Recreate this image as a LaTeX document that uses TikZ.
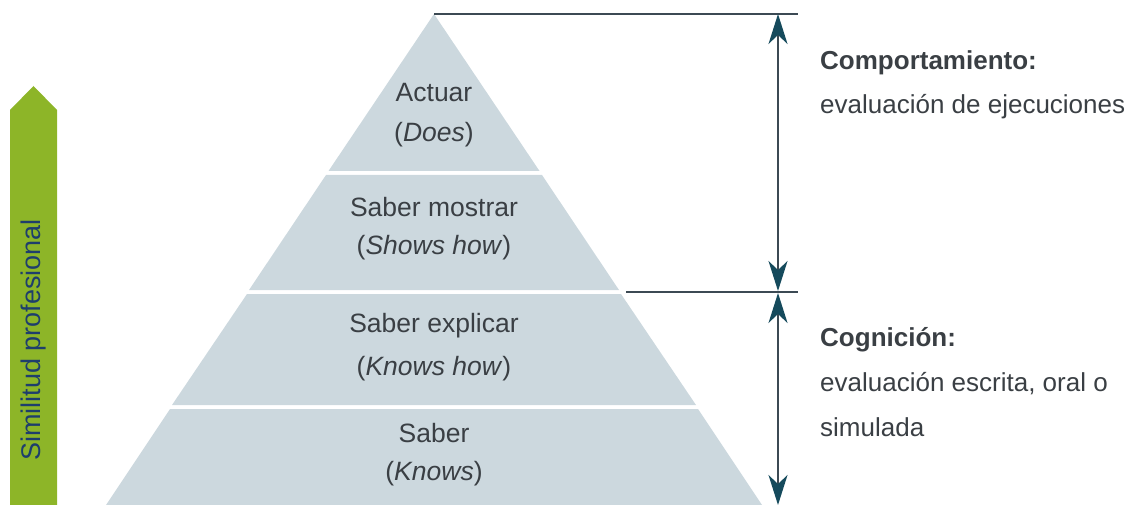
\documentclass[tikz,border=0pt]{standalone}
\usepackage{fontspec}
\setmainfont{Liberation Sans}
\usetikzlibrary{arrows.meta}
\definecolor{pyr}{HTML}{CCD8DE}
\definecolor{gap}{HTML}{F4F6EC}
\definecolor{txt}{HTML}{3A3F44}
\definecolor{ln}{HTML}{3C4A54}
\definecolor{tip}{HTML}{154A5C}
\definecolor{grn}{HTML}{8DB528}
\definecolor{gtxt}{HTML}{1E3E6C}
\tikzset{
  lbl/.style={text=txt,font=\fontsize{26.5}{26.5}\selectfont,align=center,inner sep=0pt},
  side/.style={text=txt,font=\fontsize{26}{26}\selectfont,anchor=west,inner sep=0pt},
  dim/.style={draw=ln,line width=1.6pt},
  dimarrow/.style={draw=ln,line width=1.6pt,{Stealth[length=30pt,width=19pt,inset=9pt,color=tip]}-{Stealth[length=30pt,width=19pt,inset=9pt,color=tip]}},
}
\begin{document}
\begin{tikzpicture}[x=1pt,y=-1pt]
\useasboundingbox (0,0) rectangle (1129,505);
% pyramid bands (apex 434,14; slope 0.672)
\fill[pyr] (434,14) -- (539.5,171) -- (328.5,171) -- cycle;
\fill[pyr] (542,175) -- (619,290) -- (249,290) -- (326,175) -- cycle;
\fill[pyr] (621,294) -- (696,405) -- (172,405) -- (247,294) -- cycle;
\fill[pyr] (698,409) -- (762,505) -- (106,505) -- (170,409) -- cycle;
% labels
\node[lbl] (a1) at (434,93) {Actuar};
\node[lbl] (a2) at (434,135) {(\textit{Does})};
\node[lbl] (b1) at (434,207) {Saber mostrar};
\node[lbl] (b2) at (434,248) {(\textit{Shows how})};
\node[lbl] (c1) at (434,326) {Saber explicar};
\node[lbl] (c2) at (434,369) {(\textit{Knows how})};
\node[lbl] (d1) at (434,433) {Saber};
\node[lbl] (d2) at (434,474) {(\textit{Knows})};
% dimension lines
\coordinate (top) at (434,14);
\coordinate (topend) at (798,14);
\coordinate (midstart) at (626,292);
\coordinate (midend) at (798,292);
\coordinate (ta) at (778,14);
\coordinate (ma1) at (778,291);
\coordinate (ma2) at (778,293);
\coordinate (ba) at (778,505);
\draw[dim] (top) -- (topend);
\draw[dim] (midstart) -- (midend);
\draw[dimarrow] (ta) -- (ma1);
\draw[dimarrow] (ma2) -- (ba);
% side texts
\node[side,font=\fontsize{26}{26}\selectfont\bfseries] (s1) at (820,63) {Comportamiento:};
\node[side] (s2) at (820,107) {evaluación de ejecuciones};
\node[side,font=\fontsize{26}{26}\selectfont\bfseries] (s3) at (820,340) {Cognición:};
\node[side] (s4) at (820,384) {evaluación escrita, oral o};
\node[side] (s5) at (820,427) {simulada};
% green arrow
\fill[grn] (10,505) -- (10,110) -- (33.5,86) -- (57,110) -- (57,505) -- cycle;
\node[text=gtxt,font=\fontsize{27}{27}\selectfont,rotate=90,inner sep=0pt] (sp) at (34,340) {Similitud profesional};
\end{tikzpicture}
\end{document}
